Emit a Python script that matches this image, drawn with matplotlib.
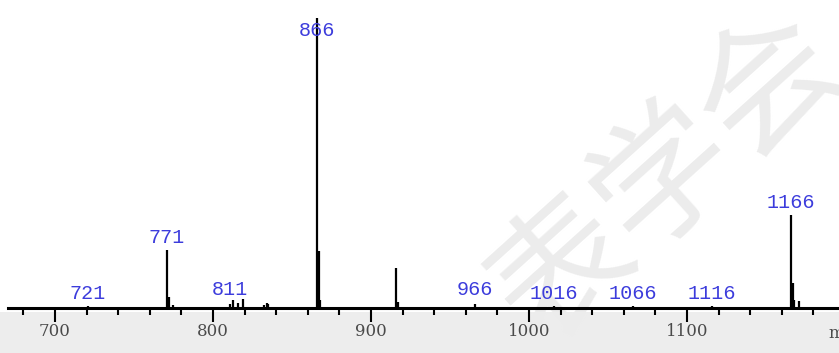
import matplotlib
matplotlib.use("Agg")
import matplotlib.pyplot as plt
from matplotlib.patches import Rectangle
from matplotlib.ticker import MultipleLocator

# peak list (m/z, relative intensity %)
peak_mz = [721, 771, 772, 775, 811, 813, 816, 819, 832, 834, 835,
           866, 867, 868, 916, 917, 966, 1016, 1066, 1116,
           1166, 1167, 1168, 1171]
peak_int = [0.8, 18.8, 3.5, 1.0, 1.2, 2.5, 1.5, 2.8, 1.0, 1.5, 1.2,
            94.0, 18.5, 2.5, 13.0, 2.0, 1.2, 0.6, 0.6, 0.8,
            30.2, 8.0, 2.5, 2.2]

label_mz = [721, 771, 811, 866, 966, 1016, 1066, 1116, 1166]
label_y = [0.8, 18.8, 2.0, 86.0, 2.0, 0.6, 0.6, 0.8, 30.2]

x_min, x_max = 670.3, 1196.2
label_color = "#3c3cdc"

fig = plt.figure(figsize=(8.39, 3.53), dpi=100)
fig.patch.set_facecolor("white")

# grey strip under the axis
fig.patches.append(Rectangle((0, 0), 1, 41 / 353, transform=fig.transFigure,
                             facecolor="#ededed", edgecolor="none", zorder=-2))

# watermark
fig.text(0.795, 0.49, "表学会", fontsize=100, color="#ececec", rotation=42,
         ha="center", va="center", family=["Noto Sans CJK SC", "DejaVu Sans"],
         zorder=-1)

ax = fig.add_axes([8 / 839, 45 / 353, 831 / 839, 308 / 353])
ax.patch.set_alpha(0)
ax.set_xlim(x_min, x_max)
ax.set_ylim(0, 100)

ax.vlines(peak_mz, 0, peak_int, color="black", linewidth=1.6, zorder=3)

for mz, y in zip(label_mz, label_y):
    ax.annotate(str(mz), (mz, y), xytext=(0, 2), textcoords="offset points",
                ha="center", va="bottom", color=label_color, fontsize=14.5,
                family="Liberation Mono", zorder=4)

for side in ["top", "left", "right"]:
    ax.spines[side].set_visible(False)
ax.spines["bottom"].set_linewidth(2.2)
ax.spines["bottom"].set_color("black")

ax.xaxis.set_major_locator(MultipleLocator(100))
ax.xaxis.set_minor_locator(MultipleLocator(20))
ax.tick_params(axis="x", which="major", direction="out", length=10, width=1.5,
               labelsize=12, labelcolor="#4a4a4a", pad=1)
ax.tick_params(axis="x", which="minor", direction="out", length=5, width=1.5)
ax.set_yticks([])
for lbl in ax.get_xticklabels():
    lbl.set_family("DejaVu Serif")

fig.text(828 / 839, 20 / 353, "m/z", fontsize=12, color="#4a4a4a",
         ha="left", va="center", family="DejaVu Serif")

fig.savefig("out.png", dpi=100)
